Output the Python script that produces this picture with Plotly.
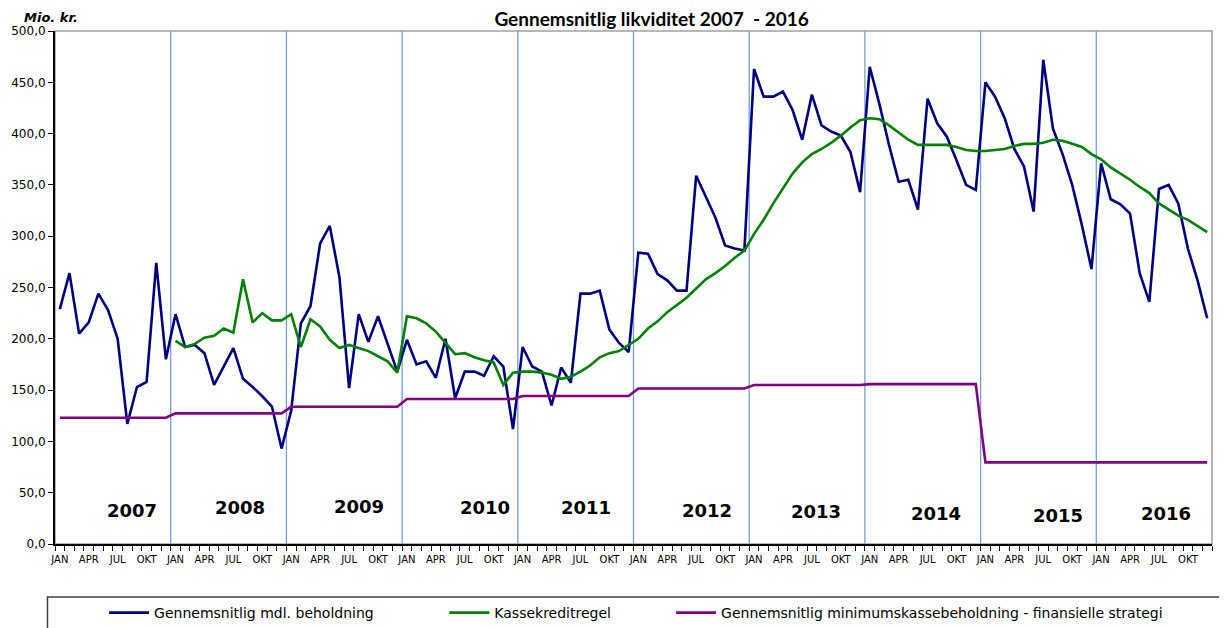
import plotly.graph_objects as go

# ---------------- data ----------------
years = [2007, 2008, 2009, 2010, 2011, 2012, 2013, 2014, 2015, 2016]
month_names = ["JAN", "FEB", "MAR", "APR", "MAJ", "JUN", "JUL", "AUG", "SEP", "OKT", "NOV", "DEC"]
shown_months = ["JAN", "APR", "JUL", "OKT"]

# Gennemsnitlig mdl. beholdning (Mio. kr.), Jan 2007 - Dec 2016
beholdning = [
    229, 264, 205, 216, 244, 228, 200, 117, 153, 158, 274, 180,   # 2007
    224, 192, 194, 186, 155, 173, 191, 161, 153, 144, 134, 93,    # 2008
    130, 215, 232, 293, 310, 260, 152, 224, 197, 222, 196, 168,   # 2009
    199, 175, 178, 162, 200, 142, 168, 168, 164, 183, 173, 112,   # 2010
    192, 173, 168, 135, 172, 157, 244, 244, 247, 209, 196, 187,   # 2011
    284, 283, 263, 257, 247, 247, 359, 338, 318, 291, 288, 286,   # 2012
    463, 436, 436, 441, 423, 394, 438, 408, 402, 398, 382, 343,   # 2013
    465, 429, 389, 353, 355, 326, 434, 410, 397, 374, 350, 345,   # 2014
    450, 436, 415, 385, 368, 324, 472, 405, 380, 350, 311, 268,   # 2015
    371, 336, 331, 322, 264, 236, 346, 350, 332, 288, 257, 220,   # 2016
]

# Kassekreditregel (no values in 2007)
kassekredit = [None] * 12 + [
    198, 192, 195, 201, 203, 210, 206, 258, 216, 225, 218, 218,   # 2008
    224, 192, 219, 212, 199, 191, 194, 191, 188, 183, 178, 167,   # 2009
    222, 220, 215, 207, 196, 185, 186, 182, 179, 177, 155, 167,   # 2010
    168, 168, 167, 165, 161, 163, 168, 174, 182, 186, 188, 194,   # 2011
    200, 210, 217, 226, 233, 240, 249, 258, 264, 271, 279, 286,   # 2012
    302, 316, 332, 347, 361, 372, 380, 385, 391, 398, 406, 413,   # 2013
    415, 414, 408, 401, 394, 389, 389, 389, 389, 387, 384, 383,   # 2014
    383, 384, 385, 388, 390, 390, 391, 394, 393, 390, 387, 380,   # 2015
    375, 367, 361, 355, 348, 342, 332, 326, 320, 316, 310, 304,   # 2016
]

# Gennemsnitlig minimumskassebeholdning - finansielle strategi
minimum = ([123.0] * 12 + [127.3] * 12 + [133.7] * 12 + [141.3] * 12 +
           [144.2] * 12 + [151.6] * 12 + [154.9] * 12 + [155.8] * 12 +
           [79.6] * 12 + [79.6] * 12)

series_names = [
    "Gennemsnitlig mdl. beholdning",
    "Kassekreditregel",
    "Gennemsnitlig minimumskassebeholdning - finansielle strategi",
]

# year label placement (month index, value) - layout only
year_label_pos = [(7.5, 33), (18.7, 35.5), (31.0, 37), (44.1, 35.5), (54.6, 35.5),
                  (67.1, 32.5), (78.4, 32), (90.9, 30), (103.5, 27.3), (114.7, 30)]

# ---------------- figure ----------------
n = len(beholdning)
x = list(range(n))

fig = go.Figure()
fig.add_trace(go.Scatter(x=x, y=beholdning, mode="lines", name=series_names[0],
                         line=dict(color="#000080", width=2.6), legend="legend"))
fig.add_trace(go.Scatter(x=x, y=kassekredit, mode="lines", name=series_names[1],
                         line=dict(color="#008000", width=2.6), legend="legend2"))
fig.add_trace(go.Scatter(x=x, y=minimum, mode="lines", name=series_names[2],
                         line=dict(color="#800080", width=2.6), legend="legend3"))

tickvals = [i for i in x if month_names[i % 12] in shown_months]
ticktext = [month_names[i % 12] for i in tickvals]

shapes = []
# plot frame (grey top/right)
shapes.append(dict(type="rect", xref="paper", yref="paper", x0=0, x1=1, y0=0, y1=1,
                   line=dict(color="#a0a0a0", width=1.5), layer="below"))
# year separators
for k in range(1, len(years)):
    shapes.append(dict(type="line", xref="x", yref="paper", x0=12 * k - 0.5, x1=12 * k - 0.5,
                       y0=0, y1=1, line=dict(color="#6f9fd8", width=1.3), layer="below"))
# legend box
shapes.append(dict(type="rect", xref="paper", yref="paper", x0=-0.0065, x1=1.08,
                   y0=-0.21, y1=-0.1035, line=dict(color="#404040", width=1.5),
                   fillcolor="rgba(0,0,0,0)", layer="above"))

annotations = []
for yr, (px, py) in zip(years, year_label_pos):
    annotations.append(dict(x=px, y=py, xref="x", yref="y", text=str(yr), showarrow=False,
                            font=dict(family="DejaVu Sans", size=18, color="black", weight="bold"),
                            xanchor="center", yanchor="middle"))
annotations.append(dict(x=-0.0285, y=1.027, xref="paper", yref="paper", text="<b><i>Mio. kr.</i></b>",
                        showarrow=False, xanchor="left", yanchor="middle",
                        font=dict(family="DejaVu Sans", size=13, color="black")))

legend_common = dict(orientation="h", yanchor="middle", xanchor="left", y=-0.1345,
                     bgcolor="rgba(0,0,0,0)", borderwidth=0, itemwidth=40,
                     font=dict(family="DejaVu Sans", size=14, color="black"))

fig.update_layout(
    width=1219, height=620,
    margin=dict(l=47, r=15, t=23, b=84, autoexpand=False),
    paper_bgcolor="white", plot_bgcolor="white",
    separators=",.",
    showlegend=True,
    title=dict(text="<b>Gennemsnitlig likviditet 2007  - 2016</b>", x=0.528, xanchor="center",
               y=0.981, yanchor="middle", yref="container",
               font=dict(family="Lato", size=19, color="black")),
    xaxis=dict(range=[-0.5, n - 0.5], tickmode="array", tickvals=tickvals, ticktext=ticktext,
               showgrid=False, zeroline=False, showline=True, linecolor="black", linewidth=2,
               ticks="outside", ticklen=5, tickcolor="rgba(0,0,0,0)", automargin=False,
               tickfont=dict(family="DejaVu Sans", size=10, color="black"),
               minor=dict(ticks="outside", ticklen=5, tickcolor="black", tickwidth=1,
                          tickmode="linear", tick0=-0.5, dtick=1, showgrid=False)),
    yaxis=dict(range=[0, 500], tickmode="linear", tick0=0, dtick=50, tickformat=".1f",
               showgrid=False, zeroline=False, showline=True, linecolor="black", linewidth=2,
               ticks="outside", ticklen=5, tickcolor="black", automargin=False,
               tickfont=dict(family="DejaVu Sans", size=12, color="black")),
    legend=dict(x=0.0424, **legend_common),
    legend2=dict(x=0.3365, **legend_common),
    legend3=dict(x=0.5325, **legend_common),
    shapes=shapes,
    annotations=annotations,
)

fig.write_html("out.html")
